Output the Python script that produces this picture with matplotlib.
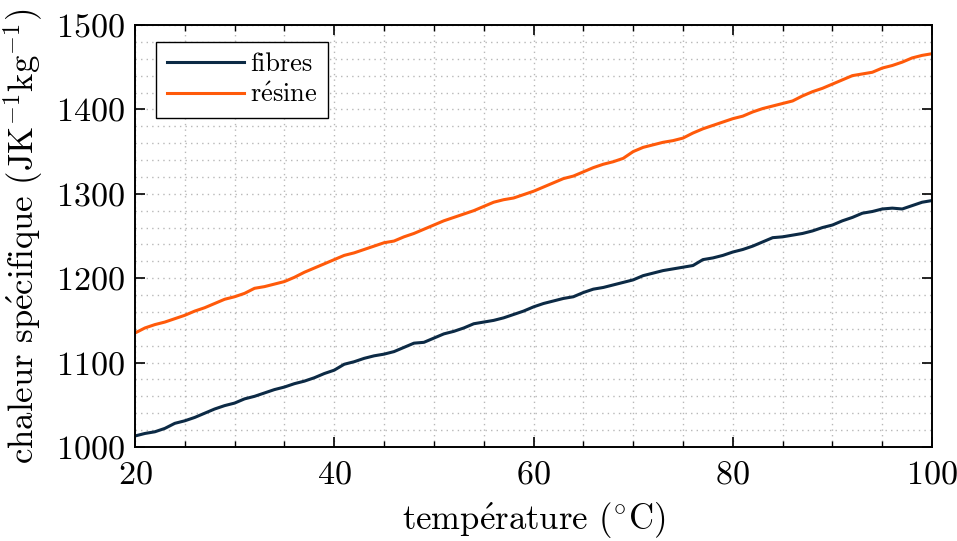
import numpy as np
import matplotlib
matplotlib.use("Agg")
import matplotlib.pyplot as plt
from matplotlib.ticker import MultipleLocator

# Données
temperature = list(range(20, 101))
fibres = [1013, 1016, 1018, 1022, 1028, 1031, 1035, 1040, 1045, 1049,
          1052, 1057, 1060, 1064, 1068, 1071, 1075, 1078, 1082, 1087,
          1091, 1098, 1101, 1105, 1108, 1110, 1113, 1118, 1123, 1124,
          1129, 1134, 1137, 1141, 1146, 1148, 1150, 1153, 1157, 1161,
          1166, 1170, 1173, 1176, 1178, 1183, 1187, 1189, 1192, 1195,
          1198, 1203, 1206, 1209, 1211, 1213, 1215, 1222, 1224, 1227,
          1231, 1234, 1238, 1243, 1248, 1249, 1251, 1253, 1256, 1260,
          1263, 1268, 1272, 1277, 1279, 1282, 1283, 1282, 1286, 1290,
          1292]
resine = [1135, 1141, 1145, 1148, 1152, 1156, 1161, 1165, 1170, 1175,
          1178, 1182, 1188, 1190, 1193, 1196, 1201, 1207, 1212, 1217,
          1222, 1227, 1230, 1234, 1238, 1242, 1244, 1249, 1253, 1258,
          1263, 1268, 1272, 1276, 1280, 1285, 1290, 1293, 1295, 1299,
          1303, 1308, 1313, 1318, 1321, 1326, 1331, 1335, 1338, 1342,
          1350, 1355, 1358, 1361, 1363, 1366, 1372, 1377, 1381, 1385,
          1389, 1392, 1397, 1401, 1404, 1407, 1410, 1416, 1421, 1425,
          1430, 1435, 1440, 1442, 1444, 1449, 1452, 1456, 1461, 1464,
          1466]

plt.rcParams['font.family'] = ['cmr10', 'DejaVu Serif']
plt.rcParams['mathtext.fontset'] = 'cm'
plt.rcParams['axes.formatter.use_mathtext'] = True

fig = plt.figure(figsize=(9.57, 5.41), dpi=100)
ax = fig.add_axes([0.141, 0.1738, 0.833, 0.78])

# é passe par mathtext : cmr10 n'a pas le glyphe
ax.plot(temperature, fibres, color='#0c2a45', lw=2.2, label='fibres')
ax.plot(temperature, resine, color='#ff5a0a', lw=2.2, label='r$\\acute{\\mathrm{e}}$sine')

ax.set_xlim(20, 100)
ax.set_ylim(1000, 1500)
ax.xaxis.set_major_locator(MultipleLocator(20))
ax.xaxis.set_minor_locator(MultipleLocator(5))
ax.yaxis.set_major_locator(MultipleLocator(100))
ax.yaxis.set_minor_locator(MultipleLocator(20))
ax.grid(which='both', linestyle=(0, (1, 3)), color='#b8b8b8', lw=1.0)
ax.set_axisbelow(True)
ax.tick_params(which='both', direction='in', top=True, right=True, labelsize=24.5)
ax.tick_params(which='major', length=7, width=1.2)
ax.tick_params(axis='x', which='both', pad=10)
ax.tick_params(axis='y', which='both', pad=7)
ax.tick_params(axis='x', which='minor', length=4, width=1.0)
ax.tick_params(axis='y', which='minor', length=0)
for s in ax.spines.values():
    s.set_linewidth(1.4)

ax.set_xlabel('temp$\\acute{\\mathrm{e}}$rature ($^{\\circ}$C)', fontsize=25, labelpad=8)
ax.set_ylabel('chaleur sp$\\acute{\\mathrm{e}}$cifique (JK$^{-1}$kg$^{-1}$)', fontsize=25, labelpad=8)

leg = ax.legend(loc='upper left', bbox_to_anchor=(0.027, 0.96), borderaxespad=0,
                fontsize=19, handlelength=2.9, handletextpad=0.25, fancybox=False,
                framealpha=1, edgecolor='black', borderpad=0.4, labelspacing=0.25)
leg.get_frame().set_linewidth(1.0)

fig.savefig('out.png', dpi=100)
